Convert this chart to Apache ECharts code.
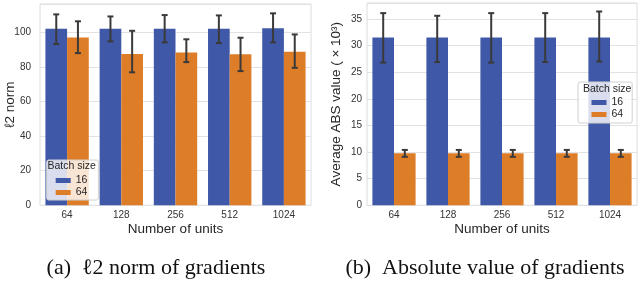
<!DOCTYPE html>
<html>
<head>
<meta charset="utf-8">
<script src="https://cdn.jsdelivr.net/npm/echarts@6/dist/echarts.min.js"></script>
<style>html,body{margin:0;padding:0;background:#fff}#c{width:640px;height:281px}</style>
</head>
<body>
<div id="c"></div>
<script>
const categories = ['64', '128', '256', '512', '1024'];
const seriesNames = ['16', '64'];
// (a) l2 norm of gradients
const normBS16 = [102.1, 102.1, 102.1, 102.1, 102.4];
const normBS64 = [97.1, 87.5, 88.4, 87.3, 88.8];
const normBS16Low = [93.2, 94.8, 94.2, 93.8, 94.2];
const normBS16High = [110.4, 109.2, 110.0, 109.8, 111.0];
const normBS64Low = [88.0, 76.9, 82.8, 77.6, 79.5];
const normBS64High = [106.4, 100.9, 96.0, 96.9, 98.8];
// (b) average absolute value of gradients (x10^3)
const absBS16 = [31.5, 31.5, 31.5, 31.5, 31.5];
const absBS64 = [9.8, 9.8, 9.8, 9.8, 9.8];
const absBS16Low = [26.8, 26.9, 26.8, 26.9, 27.0];
const absBS16High = [36.1, 35.6, 36.1, 36.1, 36.4];
const absBS64Low = [9.1, 9.1, 9.1, 9.1, 9.1];
const absBS64High = [10.4, 10.4, 10.4, 10.4, 10.4];
const normTicks = [0, 20, 40, 60, 80, 100];
const absTicks = [0, 5, 10, 15, 20, 25, 30, 35];

const BLUE = '#4058A8';
const ORANGE = '#DE7D27';
const ERR = '#3a3a3a';
const SANS = "'Liberation Sans', Arial, sans-serif";
const SERIF = "'Liberation Serif', 'Times New Roman', serif";

function errData(low, high) {
  return low.map((l, i) => [i, l, high[i]]);
}
function errRender(shift) {
  return function (params, api) {
    const band = api.size([1, 0])[0];
    const x = api.coord([api.value(0), 0])[0] + shift * band;
    const y1 = api.coord([api.value(0), api.value(1)])[1];
    const y2 = api.coord([api.value(0), api.value(2)])[1];
    const cap = 3;
    const st = { stroke: ERR, lineWidth: 2 };
    return {
      type: 'group',
      children: [
        { type: 'line', shape: { x1: x, y1: y1, x2: x, y2: y2 }, style: st },
        { type: 'line', shape: { x1: x - cap, y1: y1, x2: x + cap, y2: y1 }, style: st },
        { type: 'line', shape: { x1: x - cap, y1: y2, x2: x + cap, y2: y2 }, style: st }
      ]
    };
  };
}

function yAxis(gridIndex, max, interval, ticks, name, margin, gap) {
  return {
    type: 'value', gridIndex, min: 0, max, interval,
    name, nameLocation: 'middle', nameGap: gap, nameMoveOverlap: false,
    nameTextStyle: { fontFamily: SANS, fontSize: 13.5, color: '#262626' },
    axisLine: { show: false }, axisTick: { show: false },
    splitLine: { show: true, lineStyle: { color: '#e2e2e2', width: 1 } },
    axisLabel: {
      fontFamily: SANS, fontSize: 10, color: '#333', margin,
      showMaxLabel: false,
      formatter: v => (ticks.indexOf(v) >= 0 ? String(v) : '')
    }
  };
}
function xAxis(gridIndex) {
  return {
    type: 'category', gridIndex, data: categories,
    name: 'Number of units', nameLocation: 'middle', nameGap: 17, nameMoveOverlap: false,
    nameTextStyle: { fontFamily: SANS, fontSize: 13.5, color: '#262626' },
    axisLine: { show: false }, axisTick: { show: false },
    splitLine: { show: false },
    axisLabel: { fontFamily: SANS, fontSize: 10, color: '#333', margin: 5 }
  };
}
function legend(left, top, padding) {
  return {
    data: seriesNames, orient: 'vertical', left, top, padding,
    itemWidth: 15, itemHeight: 5, itemGap: 1, icon: 'rect',
    selectedMode: false,
    backgroundColor: 'rgba(255,255,255,0.8)', borderColor: '#d0d0d0', borderWidth: 1, borderRadius: 2,
    textStyle: { fontFamily: SANS, fontSize: 10.5, color: '#262626', padding: [0, 0, 0, 0] }
  };
}

const chart = echarts.init(document.getElementById('c'), null, { renderer: 'canvas' });
chart.setOption({
  animation: false,
  backgroundColor: '#fff',
  grid: [
    { left: 40, top: 4, width: 271, height: 201.3, show: true, outerBoundsMode: 'none', containLabel: false, borderColor: '#dcdcdc', borderWidth: 1, backgroundColor: 'transparent' },
    { left: 367, top: 3, width: 270, height: 202.3, show: true, outerBoundsMode: 'none', containLabel: false, borderColor: '#dcdcdc', borderWidth: 1, backgroundColor: 'transparent' }
  ],
  xAxis: [xAxis(0), xAxis(1)],
  yAxis: [
    yAxis(0, 116.4, 20, normTicks, 'ℓ2 norm', 9, 23),
    yAxis(1, 38.0, 5, absTicks, 'Average ABS value ( × 10³)', 5, 23.5)
  ],
  legend: [legend(46.7, 160, [15, 11, 2, 9]), legend(578, 82, [15, 9, 3, 13.5])],
  graphic: [
    { type: 'text', z: 100, left: 47.5, top: 161, style: { text: 'Batch size', font: '10.5px ' + SANS, fill: '#262626' } },
    { type: 'text', z: 100, left: 583, top: 84, style: { text: 'Batch size', font: '10.5px ' + SANS, fill: '#262626' } },
    { type: 'text', z: 100, x: 156, y: 268, style: { text: '(a)  ℓ2 norm of gradients', font: '22px ' + SERIF, fill: '#111', align: 'center', verticalAlign: 'middle' } },
    { type: 'text', z: 100, x: 485, y: 268, style: { text: '(b)  Absolute value of gradients', font: '22px ' + SERIF, fill: '#111', align: 'center', verticalAlign: 'middle' } }
  ],
  series: [
    { name: '16', type: 'bar', xAxisIndex: 0, yAxisIndex: 0, data: normBS16, barGap: '0%', barCategoryGap: '20%', itemStyle: { color: BLUE } },
    { name: '64', type: 'bar', xAxisIndex: 0, yAxisIndex: 0, data: normBS64, barGap: '0%', barCategoryGap: '20%', itemStyle: { color: ORANGE } },
    { name: '16', type: 'bar', xAxisIndex: 1, yAxisIndex: 1, data: absBS16, barGap: '0%', barCategoryGap: '20%', itemStyle: { color: BLUE } },
    { name: '64', type: 'bar', xAxisIndex: 1, yAxisIndex: 1, data: absBS64, barGap: '0%', barCategoryGap: '20%', itemStyle: { color: ORANGE } },
    { name: 'err-a16', type: 'custom', xAxisIndex: 0, yAxisIndex: 0, z: 5, data: errData(normBS16Low, normBS16High), renderItem: errRender(-0.2) },
    { name: 'err-a64', type: 'custom', xAxisIndex: 0, yAxisIndex: 0, z: 5, data: errData(normBS64Low, normBS64High), renderItem: errRender(0.2) },
    { name: 'err-b16', type: 'custom', xAxisIndex: 1, yAxisIndex: 1, z: 5, data: errData(absBS16Low, absBS16High), renderItem: errRender(-0.2) },
    { name: 'err-b64', type: 'custom', xAxisIndex: 1, yAxisIndex: 1, z: 5, data: errData(absBS64Low, absBS64High), renderItem: errRender(0.2) }
  ]
});
</script>
</body>
</html>
